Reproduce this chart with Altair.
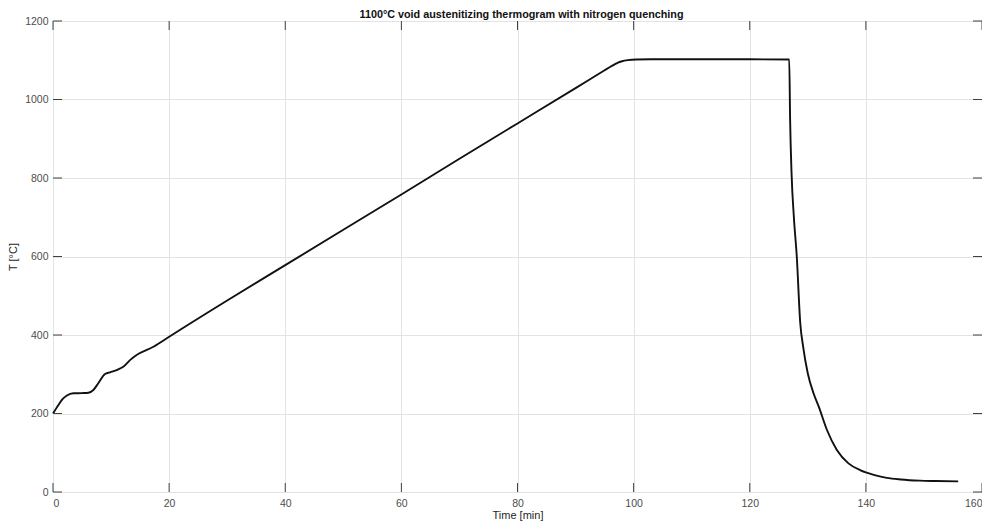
import altair as alt
import pandas as pd

chart_title = ["1100°C void austenitizing thermogram with nitrogen quenching"]

time_min = [0, 0.9, 1.6, 2.4, 3.5, 5.0, 6.1, 6.95, 7.8, 8.96, 9.8, 11.25, 12.1, 13.26,
            14.4, 17.3, 20.15, 30, 40, 50, 60, 70, 80, 90, 95, 96, 96.8, 97.3, 98, 99, 100.5,
            103, 110, 120, 126.8, 126.95, 127.2, 127.6, 128.1, 128.7, 129.2, 130.0,
            131.0, 131.9, 133.3, 135.0, 137.0, 139.0, 140.0, 141.5, 143.6, 146.0,
            149.3, 152.0, 155.9]
temp_c = [200, 221, 236, 246, 251.5, 252, 253, 260, 277, 300.5, 305, 312.5, 319, 336,
          349, 370, 397, 488, 578, 668, 758, 849, 939, 1029, 1074.5, 1083.5, 1090, 1094,
          1097.5, 1100.3, 1102, 1102.5, 1102.5, 1102.5, 1102, 950, 812, 700, 600, 430, 370,
          302, 251, 217, 158, 107, 73, 56, 50, 43, 36, 32, 29, 28, 27]

x_ticks = [0, 20, 40, 60, 80, 100, 120, 140, 160]
y_ticks = [0, 200, 400, 600, 800, 1000, 1200]

W, H = 929, 471
AX = "#404040"
LBL = "#4d4d4d"

df = pd.DataFrame({"t": time_min, "T": temp_c})
xt = pd.DataFrame({"v": x_ticks})
yt = pd.DataFrame({"v": y_ticks})
tt = pd.DataFrame({"title": chart_title})

xs = alt.Scale(domain=[0, 160], nice=False, zero=False)
ys = alt.Scale(domain=[0, 1200], nice=False, zero=False)

line = alt.Chart(df).mark_line(color="#111111", strokeWidth=1.9, interpolate="monotone").encode(
    x=alt.X("t:Q", scale=xs, title="Time [min]",
            axis=alt.Axis(values=x_ticks, format="d", grid=True, gridColor="#e3e3e3", tickSize=0,
                          domain=False, labelColor=LBL, labelFont="Liberation Sans",
                          labelFontSize=10.5, labelPadding=6, titleColor="#262626",
                          titleFont="Liberation Sans", titleFontSize=11,
                          titleFontWeight="normal", titlePadding=1)),
    y=alt.Y("T:Q", scale=ys, title="T [°C]",
            axis=alt.Axis(values=y_ticks, format="d", grid=True, gridColor="#e3e3e3", tickSize=0,
                          domain=False, labelColor=LBL, labelFont="Liberation Sans",
                          labelFontSize=10.5, labelPadding=5, titleColor="#262626",
                          titleFont="Liberation Sans", titleFontSize=11,
                          titleFontWeight="normal", titlePadding=6)),
)

tick_bottom = alt.Chart(xt).mark_rule(color=AX, strokeWidth=1).encode(
    x=alt.X("v:Q", scale=xs), y=alt.value(H), y2=alt.value(H - 9))
tick_top = alt.Chart(xt).mark_rule(color=AX, strokeWidth=1).encode(
    x=alt.X("v:Q", scale=xs), y=alt.value(0), y2=alt.value(9))
tick_left = alt.Chart(yt).mark_rule(color=AX, strokeWidth=1).encode(
    y=alt.Y("v:Q", scale=ys), x=alt.value(0), x2=alt.value(9))
tick_right = alt.Chart(yt).mark_rule(color=AX, strokeWidth=1).encode(
    y=alt.Y("v:Q", scale=ys), x=alt.value(W), x2=alt.value(W - 9))

title_text = alt.Chart(tt).mark_text(
    font="Liberation Sans", fontSize=10.8, fontWeight="bold", color="#111111",
    align="center", baseline="alphabetic").encode(
    text="title:N", x=alt.value(W / 2 + 4), y=alt.value(-3))

chart = alt.layer(line, tick_bottom, tick_top, tick_left, tick_right, title_text).properties(
    width=W, height=H,
    autosize=alt.AutoSizeParams(type="none"),
    padding={"left": 45, "top": 13, "right": 0, "bottom": 29},
).configure_view(stroke=AX, strokeWidth=1).configure(background="white")

chart.save("out.html", embed_options={"renderer": "svg", "actions": False})
